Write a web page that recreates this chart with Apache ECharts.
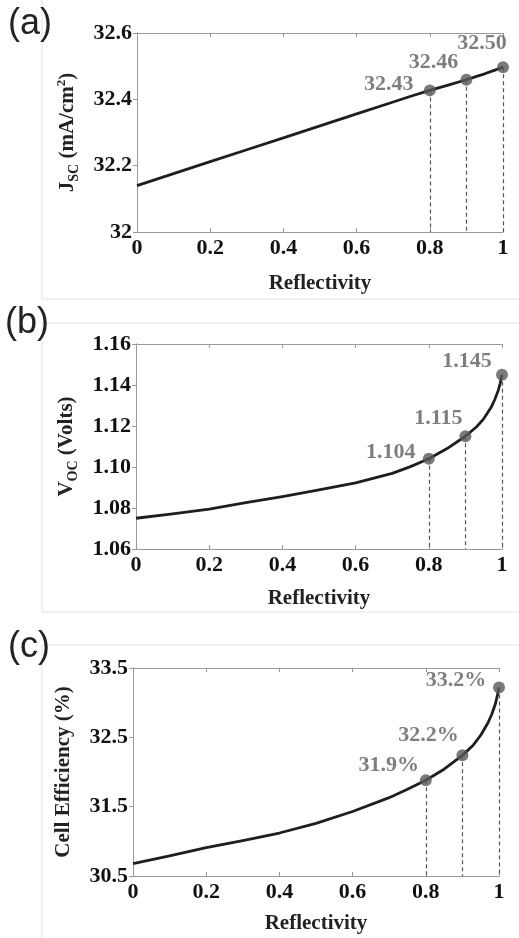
<!DOCTYPE html>
<html>
<head>
<meta charset="utf-8">
<script src="https://cdn.jsdelivr.net/npm/echarts@6/dist/echarts.min.js"></script>
<style>
html,body{margin:0;padding:0;background:#fff;}
#chart{width:519px;height:938px;}
</style>
</head>
<body>
<div id="chart"></div>
<script>
// ---- data ----
var reflectivity = [0, 0.1, 0.2, 0.3, 0.4, 0.5, 0.6, 0.7, 0.75, 0.8, 0.85, 0.9, 0.93, 0.95, 0.97, 0.98, 0.99, 0.995, 1.0];
var jscValues = [32.14, 32.176, 32.212, 32.248, 32.284, 32.32, 32.356, 32.392, 32.410, 32.427, 32.443, 32.459, 32.470, 32.477, 32.485, 32.489, 32.493, 32.495, 32.497];
var vocValues = [1.075, 1.0771, 1.0794, 1.0826, 1.0855, 1.0888, 1.0923, 1.0969, 1.1002, 1.104, 1.109, 1.115, 1.1195, 1.1235, 1.1290, 1.1328, 1.1375, 1.1408, 1.145];
var effValues = [30.68, 30.79, 30.91, 31.01, 31.12, 31.26, 31.43, 31.63, 31.75, 31.88, 32.04, 32.24, 32.39, 32.53, 32.71, 32.83, 32.98, 33.09, 33.22];

var markX = [0.8, 0.9, 1.0];
var jscMarks = [32.427, 32.459, 32.497];
var vocMarks = [1.104, 1.115, 1.145];
var effMarks = [31.88, 32.24, 33.22];
var jscLabels = ['32.43', '32.46', '32.50'];
var vocLabels = ['1.104', '1.115', '1.145'];
var effLabels = ['31.9%', '32.2%', '33.2%'];

var panelTags = ['(a)', '(b)', '(c)'];
var xTitle = 'Reflectivity';

// ---- styling ----
var SERIF = '"Liberation Serif", "Times New Roman", serif';
var AX = '#999';
var chart = echarts.init(document.getElementById('chart'), null, {renderer: 'canvas'});

var grids = [
  {left: 137, top: 33, width: 366, height: 199},
  {left: 136, top: 344, width: 366, height: 205},
  {left: 133, top: 668, width: 366, height: 208}
];
var yRanges = [
  {min: 32, max: 32.6, interval: 0.2, fmt: function (v) { return String(+v.toFixed(1)); }},
  {min: 1.06, max: 1.16, interval: 0.02, fmt: function (v) { return v.toFixed(2); }},
  {min: 30.5, max: 33.5, interval: 1, fmt: function (v) { return v.toFixed(1); }}
];
var yNames = [
  '{b|J}{s|SC}{b| (mA/cm}{p|2}{b|)}',
  '{b|V}{s|OC}{b| (Volts)}',
  '{b|Cell Efficiency (%)}'
];
var richName = {
  b: {fontFamily: SERIF, fontWeight: 'bold', fontSize: 21, color: '#222', lineHeight: 26, verticalAlign: 'middle'},
  s: {fontFamily: SERIF, fontWeight: 'bold', fontSize: 14, color: '#222', lineHeight: 26, verticalAlign: 'bottom'},
  p: {fontFamily: SERIF, fontWeight: 'bold', fontSize: 13, color: '#222', lineHeight: 26, verticalAlign: 'top'}
};
var lineData = [jscValues, vocValues, effValues];
var markData = [jscMarks, vocMarks, effMarks];
var markLabels = [jscLabels, vocLabels, effLabels];
var labelOffsets = [
  [[-41, -6], [-33, -17], [-21, -24]],
  [[-38, -6], [-27, -18], [-35, -13]],
  [[-37, -15], [-34, -20], [-43, -7]]
];
var nameGapsX = [41, 39, 37];

var xAxes = [], yAxes = [], series = [];
for (var i = 0; i < 3; i++) {
  xAxes.push({
    type: 'value', gridIndex: i, min: 0, max: 1, interval: 0.2, position: 'bottom',
    axisLine: {show: true, lineStyle: {color: AX, width: 1}},
    axisTick: {show: true, inside: true, length: 4, lineStyle: {color: AX}},
    splitLine: {show: false},
    axisLabel: {fontFamily: SERIF, fontWeight: 'bold', fontSize: 22, color: '#111', margin: 5},
    name: xTitle, nameLocation: 'middle', nameGap: nameGapsX[i],
    nameTextStyle: {fontFamily: SERIF, fontWeight: 'bold', fontSize: 21, color: '#222'}
  });
  xAxes.push({
    type: 'value', gridIndex: i, min: 0, max: 1, interval: 0.2, position: 'top',
    axisLine: {show: true, lineStyle: {color: AX, width: 1}},
    axisTick: {show: true, inside: true, length: 4, lineStyle: {color: AX}},
    splitLine: {show: false}, axisLabel: {show: false}
  });
  var r = yRanges[i];
  yAxes.push({
    type: 'value', gridIndex: i, min: r.min, max: r.max, interval: r.interval, position: 'left',
    axisLine: {show: true, lineStyle: {color: AX, width: 1}},
    axisTick: {show: false},
    splitLine: {show: false},
    axisLabel: {fontFamily: SERIF, fontWeight: 'bold', fontSize: 22, color: '#111', margin: 5, formatter: r.fmt},
    name: yNames[i], nameLocation: 'middle', nameGap: 56, nameRotate: 90,
    nameTextStyle: {fontFamily: SERIF, fontWeight: 'bold', fontSize: 21, color: '#222', rich: richName}
  });
  yAxes.push({
    type: 'value', gridIndex: i, min: r.min, max: r.max, interval: r.interval, position: 'right',
    axisLine: {show: true, lineStyle: {color: AX, width: 1}},
    axisTick: {show: true, inside: true, length: 4, lineStyle: {color: AX}},
    splitLine: {show: false}, axisLabel: {show: false}
  });

  var pts = reflectivity.map(function (x, k) { return [x, lineData[i][k]]; });
  series.push({
    type: 'line', xAxisIndex: 2 * i, yAxisIndex: 2 * i, data: pts,
    smooth: false, showSymbol: false, silent: true,
    lineStyle: {color: '#1e1e1e', width: 2.8, join: 'round'}, z: 3
  });
  var mpts = markX.map(function (x, k) {
    return {
      value: [x, markData[i][k]],
      label: {
        show: true, position: 'inside', offset: labelOffsets[i][k],
        formatter: markLabels[i][k],
        fontFamily: SERIF, fontWeight: 'bold', fontSize: 22, color: '#5e5e5e'
      }
    };
  });
  var ymin = r.min;
  series.push({
    type: 'scatter', xAxisIndex: 2 * i, yAxisIndex: 2 * i, data: mpts,
    symbol: 'circle', symbolSize: 12, itemStyle: {color: '#58595b'}, z: 5, silent: true,
    markLine: {
      silent: true, symbol: ['none', 'none'], label: {show: false},
      lineStyle: {color: '#555', width: 1.2, type: [4, 3]},
      data: markX.map(function (x, k) {
        return [{coord: [x, markData[i][k]]}, {coord: [x, ymin]}];
      })
    }
  });
}

var FR = '#e2e2e2';
var TAGFONT = '36px "Liberation Sans", Arial, sans-serif';
var graphics = [
  {type: 'line', shape: {x1: 42, y1: 0, x2: 42, y2: 299}, style: {stroke: FR, lineWidth: 1}},
  {type: 'line', shape: {x1: 42, y1: 299, x2: 519, y2: 299}, style: {stroke: FR, lineWidth: 1}},
  {type: 'line', shape: {x1: 42, y1: 323, x2: 519, y2: 323}, style: {stroke: FR, lineWidth: 1}},
  {type: 'line', shape: {x1: 42, y1: 323, x2: 42, y2: 612}, style: {stroke: FR, lineWidth: 1}},
  {type: 'line', shape: {x1: 42, y1: 612, x2: 519, y2: 612}, style: {stroke: FR, lineWidth: 1}},
  {type: 'line', shape: {x1: 42, y1: 645, x2: 519, y2: 645}, style: {stroke: FR, lineWidth: 1}},
  {type: 'line', shape: {x1: 42, y1: 645, x2: 42, y2: 938}, style: {stroke: FR, lineWidth: 1}},
  {type: 'text', left: 8, top: 6, style: {text: panelTags[0], font: TAGFONT, fill: '#222'}},
  {type: 'text', left: 5, top: 305, style: {text: panelTags[1], font: TAGFONT, fill: '#222'}},
  {type: 'text', left: 8, top: 629, style: {text: panelTags[2], font: TAGFONT, fill: '#222'}}
];

chart.setOption({
  animation: false,
  backgroundColor: '#fff',
  grid: grids,
  xAxis: xAxes,
  yAxis: yAxes,
  series: series,
  graphic: graphics
});
</script>
</body>
</html>
